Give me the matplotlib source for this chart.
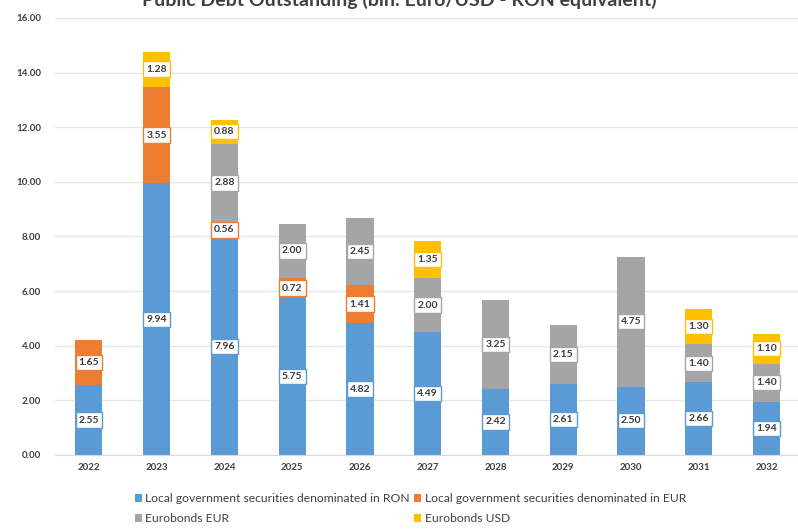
import numpy as np
import matplotlib.pyplot as plt

years = ['2022', '2023', '2024', '2025', '2026', '2027', '2028', '2029', '2030', '2031', '2032']
ron_local = [2.55, 9.94, 7.96, 5.75, 4.82, 4.49, 2.42, 2.61, 2.50, 2.66, 1.94]
eur_local = [1.65, 3.55, 0.56, 0.72, 1.41, 0, 0, 0, 0, 0, 0]
eurobonds_eur = [0, 0, 2.88, 2.00, 2.45, 2.00, 3.25, 2.15, 4.75, 1.40, 1.40]
eurobonds_usd = [0, 1.28, 0.88, 0, 0, 1.35, 0, 0, 0, 1.30, 1.10]

series = [
    ('Local government securities denominated in RON', ron_local, '#5B9BD5'),
    ('Local government securities denominated in EUR', eur_local, '#ED7D31'),
    ('Eurobonds EUR', eurobonds_eur, '#A5A5A5'),
    ('Eurobonds USD', eurobonds_usd, '#FFC000'),
]

plt.rcParams['font.family'] = ['Lato', 'DejaVu Sans']

fig = plt.figure(figsize=(7.98, 5.29), dpi=100)
ax = fig.add_axes([0.069, 0.140, 0.934, 0.826])

x = np.arange(len(years))
bottom = np.zeros(len(years))
handles = []
for nom, vals, couleur in series:
    vals = np.array(vals)
    b = ax.bar(x, vals, 0.40, bottom=bottom, color=couleur, label=nom, zorder=2)
    handles.append(b)
    for i, v in enumerate(vals):
        if v > 0:
            ax.text(x[i], bottom[i] + v / 2, f'{v:.2f}', ha='center', va='center',
                    fontsize=7.5, fontweight='bold', color='#3A3A3A', zorder=4,
                    bbox=dict(boxstyle='square,pad=0.3', facecolor='white',
                              edgecolor=couleur, linewidth=1.0))
    bottom += vals

ax.set_xlim(-0.5, len(years) - 0.5)
ax.set_ylim(0, 16)
ax.set_yticks(np.arange(0, 16.1, 2))
ax.set_yticklabels([f'{t:.2f}' for t in np.arange(0, 16.1, 2)])
ax.set_xticks(x)
ax.set_xticklabels(years)
ax.tick_params(axis='both', length=0, labelsize=7, labelcolor='#404040')
ax.tick_params(axis='y', pad=10)
ax.tick_params(axis='x', pad=6)
for lab in ax.get_xticklabels() + ax.get_yticklabels():
    lab.set_fontweight('bold')
ax.grid(axis='y', color='#E6E6E6', linewidth=1, zorder=0)
for s in ['top', 'right', 'left']:
    ax.spines[s].set_visible(False)
ax.spines['bottom'].set_color('#D9D9D9')

fig.text(0.5, 1 - 6 / 529, 'Public Debt Outstanding (bln. Euro/USD - RON equivalent)',
         ha='center', va='baseline', fontsize=14, fontweight='bold', color='#404040')

# ordre du legende: lignes RON / EUR local puis Eurobonds EUR / USD
ordre = [handles[0], handles[2], handles[1], handles[3]]
leg = fig.legend(handles=ordre, loc='lower left', bbox_to_anchor=(0.155, -0.012), ncol=2,
                 frameon=False, fontsize=8.7, handlelength=0.6, handleheight=0.6,
                 handletextpad=0.3, columnspacing=0.3, labelspacing=0.75)
for t in leg.get_texts():
    t.set_color('#404040')

plt.savefig('out.png', dpi=100)
